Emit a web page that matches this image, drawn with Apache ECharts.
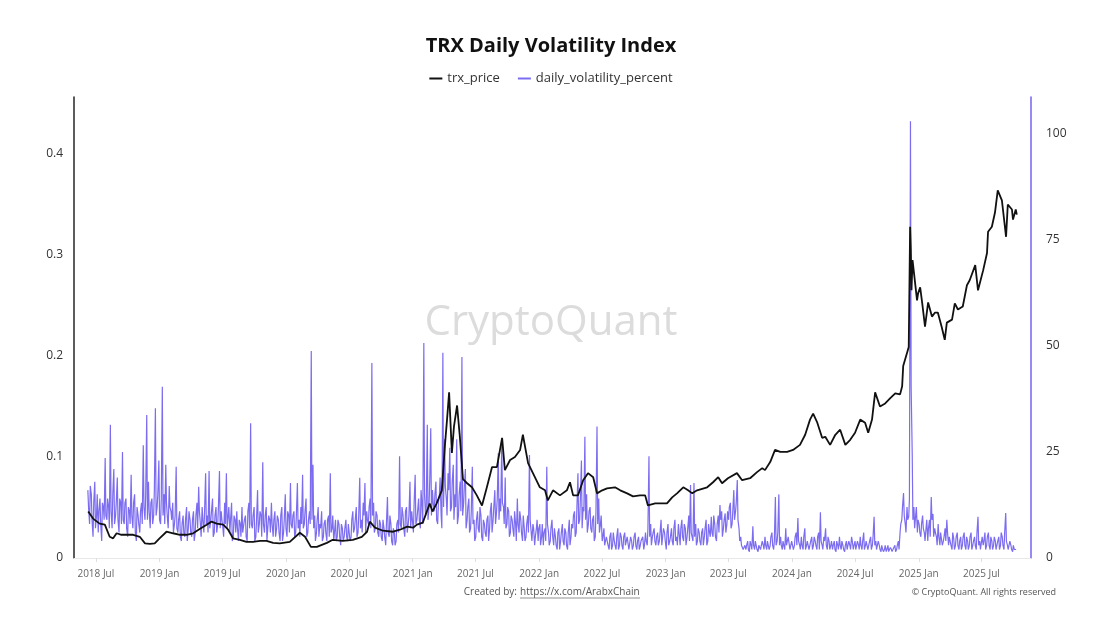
<!DOCTYPE html>
<html><head><meta charset="utf-8">
<script src="https://cdn.jsdelivr.net/npm/echarts@6/dist/echarts.min.js"></script>
<style>html,body{margin:0;padding:0;background:#fff}#c{width:1102px;height:622px}</style>
</head><body><div id="c"></div>
<script>
const priceDates = ['2018-06-09','2018-06-23','2018-07-12','2018-07-27','2018-08-10','2018-08-20','2018-08-30','2018-09-13','2018-09-28','2018-10-17','2018-11-05','2018-11-20','2018-12-04','2018-12-18',
'2019-01-01','2019-01-21','2019-02-09','2019-03-01','2019-03-20','2019-04-08','2019-04-28','2019-05-17','2019-05-31','2019-06-15','2019-07-04','2019-07-18','2019-08-01','2019-08-21','2019-09-09','2019-09-28','2019-10-18','2019-11-06','2019-11-25','2019-12-14',
'2020-01-12','2020-02-10','2020-02-25','2020-03-13','2020-03-30','2020-04-28','2020-05-15','2020-06-13','2020-07-12','2020-08-07','2020-08-22','2020-08-30','2020-09-14','2020-10-07','2020-11-05','2020-11-25','2020-12-16',
'2021-01-02','2021-01-13','2021-01-30','2021-02-19','2021-02-27','2021-03-11','2021-03-26','2021-04-04','2021-04-10','2021-04-16','2021-04-24','2021-04-30','2021-05-09','2021-05-17','2021-05-26','2021-06-07','2021-06-21','2021-07-05','2021-07-20','2021-08-03','2021-08-18','2021-09-01','2021-09-16','2021-09-24','2021-10-09','2021-10-23','2021-11-07','2021-11-15','2021-11-30','2021-12-14',
'2022-01-03','2022-01-18','2022-01-26','2022-02-10','2022-03-02','2022-03-22','2022-03-31','2022-04-09','2022-04-23','2022-05-08','2022-05-22','2022-06-06','2022-06-17','2022-07-02','2022-07-16','2022-08-08','2022-08-23','2022-09-12','2022-09-29','2022-10-19','2022-11-03','2022-11-11','2022-12-02','2022-12-16',
'2023-01-05','2023-01-20','2023-02-03','2023-02-21','2023-03-07','2023-03-19','2023-04-02','2023-05-01','2023-05-18','2023-06-02','2023-06-13','2023-06-30','2023-07-26','2023-08-10','2023-09-02','2023-09-22','2023-10-07','2023-10-15','2023-10-30','2023-11-13','2023-11-28','2023-12-18',
'2024-01-04','2024-01-24','2024-02-08','2024-02-22','2024-03-02','2024-03-14','2024-03-28','2024-04-06','2024-04-20','2024-05-05','2024-05-19','2024-06-03','2024-06-17','2024-07-01','2024-07-16','2024-07-30','2024-08-08','2024-08-19','2024-08-28','2024-09-11','2024-09-26','2024-10-10','2024-10-25','2024-11-08','2024-11-14','2024-11-17','2024-11-28','2024-12-03','2024-12-07','2024-12-09','2024-12-11','2024-12-14','2024-12-27','2024-12-30',
'2025-01-05','2025-01-11','2025-01-19','2025-01-28','2025-02-08','2025-02-17','2025-02-25','2025-03-08','2025-03-17','2025-03-23','2025-04-07','2025-04-15','2025-04-24','2025-05-08','2025-05-20','2025-05-28','2025-06-13','2025-06-21','2025-07-06','2025-07-17','2025-07-20','2025-07-31','2025-08-09','2025-08-17','2025-08-29','2025-09-01','2025-09-10','2025-09-15','2025-09-27','2025-09-30','2025-10-08','2025-10-11'];
const priceValues = [0.046,0.039,0.034,0.033,0.021,0.0195,0.0245,0.023,0.023,0.023,0.021,0.0145,0.014,0.0145,
0.0195,0.026,0.0245,0.023,0.023,0.0245,0.029,0.033,0.036,0.034,0.033,0.028,0.0195,0.018,0.016,0.016,0.017,0.017,0.015,0.0145,
0.016,0.025,0.021,0.011,0.011,0.015,0.018,0.017,0.018,0.021,0.026,0.036,0.030,0.027,0.026,0.028,0.031,
0.030,0.033,0.035,0.054,0.046,0.054,0.067,0.112,0.137,0.164,0.104,0.130,0.151,0.120,0.078,0.074,0.070,0.062,0.052,0.070,0.090,0.090,0.119,0.087,0.097,0.100,0.107,0.122,0.094,0.084,
0.070,0.067,0.057,0.067,0.062,0.067,0.075,0.062,0.062,0.077,0.084,0.080,0.064,0.067,0.069,0.070,0.067,0.064,0.061,0.062,0.062,0.052,0.054,0.054,
0.054,0.060,0.064,0.070,0.067,0.064,0.067,0.070,0.075,0.080,0.074,0.079,0.084,0.077,0.079,0.085,0.089,0.087,0.095,0.107,0.105,0.105,
0.107,0.112,0.122,0.137,0.143,0.134,0.119,0.120,0.112,0.122,0.127,0.112,0.117,0.124,0.137,0.134,0.124,0.137,0.164,0.150,0.153,0.158,0.163,0.162,0.170,0.190,0.203,0.209,0.328,0.305,0.265,0.295,0.255,0.262,
0.268,0.252,0.229,0.253,0.239,0.243,0.243,0.229,0.216,0.233,0.236,0.252,0.246,0.249,0.270,0.275,0.290,0.265,0.285,0.302,0.323,0.328,0.342,0.364,0.354,0.345,0.318,0.350,0.345,0.335,0.345,0.340];

// Volatility, read every 5 days from 2018-06-08 (volValues) plus the in-between reading 2 days later (volMidValues)
const volStart = [2018, 6, 8];
const volStepDays = 5;
const volMidOffsetDays = 2;
const volValues = [
16,8,15,5,18,10,6,14,4,12,
23.6,9,12,31.4,7,21,10,19,6,13,
25,8,14,5,11,19.6,7,15,4,10,
6,13,26.6,9,33.7,18,7,14,10,35.3,
12,23,8,40.4,15,22,9,17,11,13,
8,21.5,6,11,4,10,5,12,7,9,
5,11,6,13,16.8,8,12,6,20,10,
20.5,9,14,6,12,8,20.5,11,7,13,
20,10,6,13,5,9,11,4,8,12,
6,10,4,13,31.8,7,12,5,16,8,
10,22.6,6,12,4,9,13,5,11,7,
9,4,12,6,15,5,10,17.7,7,11,
6,17.7,9,12,19.6,8,14,6,11,48.8,
22,10,6,12,8,11,5,9,4,10,
20,7,4,9,5,8,3,7,5,9,
4,8,5,11,7,12,6,18.9,9,13,
17.7,11,8,14,46,13,7,10,5,8,
4,7,3,14.4,5,8,3,6,4,9,
24,7,10,5,12,8,18,11,6,19.6,
9,14,7,12,50.7,10,31.4,12,30.6,16,
11,18,8,15,10,48.4,28,14,20,26,
12,22,15,28,10,18,47.4,13,21,9,
14,7,21.5,9,5,11,6,10,4,8,
5,10,7,13,9,16,11,24.7,14,27.4,
12,19,8,11,6,9,5,8,14,6,
9,4,7,5,10,24.3,6,8,3,7,
4,8,5,3,7,21.5,6,4,9,3,
5,2,7,4,8,3,6,2,9,5,
7,11,6,20,9,23,12,28.6,15,8,
12,6,10,5,31,14,8,4,7,3,
5,2,6,3,4,2,7,3,5,2,
6,3,5,2,4,3,6,2,5,3,
4,2,6,3,24,8,5,7,3,6,
4,9,3,6,2,8,4,7,3,9,
5,8,3,9,4,7,5,10,17.2,6,
17.7,8,4,6,3,7,5,9,4,6,
9.7,5,8,4,10,12.5,11,7,10.5,8,
9,13,8,16,11,18.4,7,5,3,2,
2,4,1.5,3,7.5,2,4,1.5,3,2,
3,5,2,4,3,6,2,14.4,4,15,
5,2,4,7,3,5,2,4,3,6,
9.4,3,5,2,7,3,4,2,5,3,
4,2,6,10.8,3,5,7,2,4,3,
2,4,1.5,3,5,2,3,1.5,4,2,
3,5,2,4,2,3,5,2,6,3,
4,2,5,3,9.7,4,2,3,1.5,2,
2,1.5,3,1.2,2,1.5,3,2,4,6,
9,15.3,8,12,9.7,103,25,12,10,6,
8,5,10,6,7,4,9,14.4,10.4,7,
5,8,3,6,4,7,9,3,5,2,
4.5,3,6,2,5,3,6,2,4,3,
6,3,5,2,9.7,4,2,3,6,3,
6,2,4,3,4,2,5,3,5,2,
10.6,3,2,3,1.5,2,2];
const volMidValues = [
12,17,9,13,7,15,11,8,13,9,
10,14,7,11,15,8,13,9,14,8,
9,13,7,12,8,10,13,6,12,8,
11,8,12,15,9,11,13,8,16,10,
15,9,14,10,8,13,7,12,9,6,
10,7,9,5,8,6,9,4,11,6,
9,4,10,7,11,5,9,11,8,6,
7,11,5,10,6,12,7,9,5,8,
7,12,9,4,10,6,7,9,5,6,
9,5,11,7,8,10,4,9,6,11,
5,8,10,4,10,6,8,9,5,10,
6,10,4,9,7,11,6,8,10,5,
10,7,5,8,7,11,5,9,8,9,
7,4,9,5,7,4,8,6,9,5,
6,10,6,4,9,5,8,4,7,5,
8,4,9,6,9,5,10,7,6,10,
6,9,12,7,10,6,11,6,9,5,
9,5,8,6,10,4,7,3,8,6,
8,12,7,11,6,10,7,9,13,8,
11,9,16,8,15,12,9,18,10,13,
15,9,13,19,7,12,17,10,16,11,
18,9,12,8,15,11,10,17,7,12,
6,11,8,4,9,7,12,5,9,6,
9,4,11,6,12,8,14,9,11,13,
8,7,12,5,10,7,11,4,8,11,
6,10,4,8,6,9,4,7,5,9,
7,3,8,6,4,8,3,7,5,7,
3,6,2,6,4,7,3,6,3,8,
10,5,12,8,14,7,11,9,6,11,
7,9,4,11,8,6,10,5,3,5,
3,5,2,6,3,5,2,6,3,5,
3,5,2,5,2,5,3,4,2,4,
5,3,4,7,5,3,6,4,5,3,
6,3,7,4,6,3,5,4,7,4,
3,6,7,5,8,3,7,4,6,4,
5,3,7,4,6,3,7,3,8,5,
6,10,5,8,6,9,5,9,6,11,
12,7,11,9,13,9,4,3,2,3,
3,2,4,2,3,4,2,3,2,4,
2,3,4,2,5,3,4,3,6,3,
3,4,2,3,5,2,4,2,5,3,
4,2,3,5,2,4,2,4,2,5,
3,5,2,4,2,4,3,5,2,4,
3,2,4,2,3,4,2,3,2,4,
2,4,3,2,4,2,3,4,2,4,
2,4,2,5,3,2,4,2,3,1.5,
3,2,1.5,2.5,1.5,2.5,1.5,3,2,8,
12,10,6,9,14,40,9,7,12,9,
6,8,7,4,9,7,5,9,5,6,
3,5,6,3,5,4,6,5,3,6,
2,5,3,4,2,5,3,5,2,5,
2,4,3,6,3,2,5,4,2,5,
3,5,2,5,2,4,2,6,3,6,
4,2,4,2,3,2];

const tickDates = ['2018-07-01','2019-01-01','2019-07-01','2020-01-01','2020-07-01','2021-01-01','2021-07-01','2022-01-01','2022-07-01','2023-01-01','2023-07-01','2024-01-01','2024-07-01','2025-01-01','2025-07-01'];
const tickLabels = ['2018 Jul','2019 Jan','2019 Jul','2020 Jan','2020 Jul','2021 Jan','2021 Jul','2022 Jan','2022 Jul','2023 Jan','2023 Jul','2024 Jan','2024 Jul','2025 Jan','2025 Jul'];
const leftTicks = [0, 0.1, 0.2, 0.3, 0.4];
const rightTicks = [0, 25, 50, 75, 100];

function toTs(s){const p=s.split('-').map(Number);return Date.UTC(p[0],p[1]-1,p[2]);}
const priceData = priceDates.map((d,i)=>[toTs(d), priceValues[i]]);
const volData = [];
volValues.forEach((v,i)=>{
  volData.push([Date.UTC(volStart[0], volStart[1]-1, volStart[2]+i*volStepDays), v]);
  if (i < volMidValues.length) volData.push([Date.UTC(volStart[0], volStart[1]-1, volStart[2]+i*volStepDays+volMidOffsetDays), volMidValues[i]]);
});
const tickTs = tickDates.map(toTs);

const FONT = "'Open Sans', 'Noto Sans', sans-serif";
const PURPLE = '#7b6cf0';
const chart = echarts.init(document.getElementById('c'));
chart.setOption({
  animation:false,
  backgroundColor:'#fff',
  textStyle:{fontFamily:FONT},
  title:{text:'TRX Daily Volatility Index', left:'center', top:31, textStyle:{fontFamily:FONT, fontSize:20, fontWeight:'bold', color:'#111'}},
  legend:{top:67, left:'center', itemWidth:13, itemHeight:2, itemGap:18, icon:'rect',
    textStyle:{fontFamily:FONT, fontSize:13, color:'#333'},
    data:[{name:'trx_price', itemStyle:{color:'#111'}},{name:'daily_volatility_percent', itemStyle:{color:PURPLE}}]},
  grid:{left:74, right:71, top:97, bottom:64, containLabel:false},
  xAxis:{type:'value', min:toTs('2018-04-29'), max:toTs('2025-11-21'),
    axisLine:{show:true, lineStyle:{color:'#e8e8e8', width:1}},
    axisTick:{show:true, customValues:tickTs, length:4, lineStyle:{color:'#e0e0e0'}},
    splitLine:{show:false},
    axisLabel:{customValues:tickTs, fontSize:10, color:'#666', margin:11, fontFamily:FONT,
      formatter:function(v){let best=0,bd=Infinity;tickTs.forEach((t,i)=>{const d=Math.abs(t-v);if(d<bd){bd=d;best=i;}});return tickLabels[best];}}
  },
  yAxis:[
    {type:'value', min:0, max:0.4564, position:'left',
      axisLine:{show:true, lineStyle:{color:'#333', width:1.6}},
      axisTick:{show:false}, splitLine:{show:false},
      axisLabel:{customValues:leftTicks, fontSize:12, color:'#333', margin:11, fontFamily:FONT, formatter:v=>String(v)}},
    {type:'value', min:0, max:108.7, position:'right',
      axisLine:{show:true, lineStyle:{color:PURPLE, width:1.6}},
      axisTick:{show:false}, splitLine:{show:false},
      axisLabel:{customValues:rightTicks, fontSize:12, color:'#333', margin:15, fontFamily:FONT}}
  ],
  graphic:[
    {type:'text', left:'center', top:302, z:0, silent:true, style:{text:'CryptoQuant', fontFamily:FONT, fontSize:42, fill:'#dcdcdc'}},
    {type:'text', x:517, y:592, style:{text:'Created by:', fontFamily:FONT, fontSize:10, fill:'#555', align:'right', verticalAlign:'middle'}},
    {type:'text', x:520, y:592, style:{text:'https://x.com/ArabxChain', fontFamily:FONT, fontSize:10, fill:'#555', align:'left', verticalAlign:'middle'}},
    {type:'line', shape:{x1:520, y1:598, x2:640, y2:598}, style:{stroke:'#777', lineWidth:0.8}},
    {type:'text', x:1056, y:592, style:{text:'© CryptoQuant. All rights reserved', fontFamily:FONT, fontSize:9, fill:'#555', align:'right', verticalAlign:'middle'}}
  ],
  series:[
    {name:'daily_volatility_percent', type:'line', yAxisIndex:1, data:volData, showSymbol:false, symbol:'none',
      lineStyle:{color:PURPLE, width:1.2}, itemStyle:{color:PURPLE}, z:2},
    {name:'trx_price', type:'line', yAxisIndex:0, data:priceData, showSymbol:false, symbol:'none',
      lineStyle:{color:'#111', width:1.8}, itemStyle:{color:'#111'}, z:3}
  ]
});
</script></body></html>
